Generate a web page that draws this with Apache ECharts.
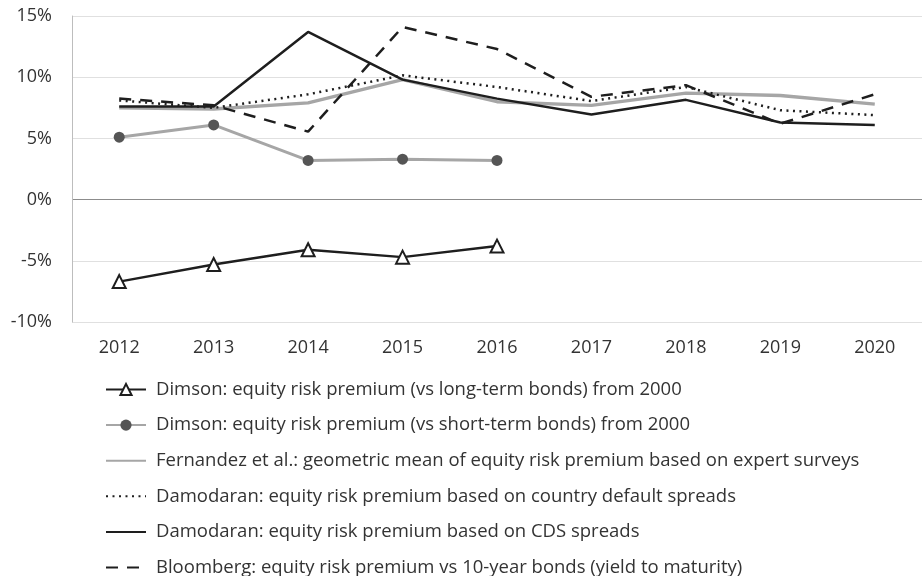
<!DOCTYPE html>
<html><head><meta charset="utf-8">
<script src="https://cdn.jsdelivr.net/npm/echarts@6/dist/echarts.min.js"></script>
<style>html,body{margin:0;padding:0;background:#fff}#c{width:922px;height:576px}</style>
</head><body><div id="c"></div>
<script>
var years = ['2012','2013','2014','2015','2016','2017','2018','2019','2020'];
var yTicks = [-10, -5, 0, 5, 10, 15];
var names = [
  'Dimson: equity risk premium (vs long-term bonds) from 2000',
  'Dimson: equity risk premium (vs short-term bonds) from 2000',
  'Fernandez et al.: geometric mean of equity risk premium based on expert surveys',
  'Damodaran: equity risk premium based on country default spreads',
  'Damodaran: equity risk premium based on CDS spreads',
  'Bloomberg: equity risk premium vs 10-year bonds (yield to maturity)'
];
var dimsonLong  = [-6.7, -5.3, -4.1, -4.7, -3.8, null, null, null, null];
var dimsonShort = [5.1, 6.1, 3.2, 3.3, 3.2, null, null, null, null];
var fernandez   = [7.5, 7.4, 7.9, 9.8, 8.0, 7.7, 8.7, 8.5, 7.8];
var damoCountry = [8.1, 7.5, 8.6, 10.15, 9.2, 8.05, 9.2, 7.3, 6.9];
var damoCDS     = [7.6, 7.6, 13.7, 9.8, 8.25, 6.95, 8.15, 6.3, 6.1];
var bloomberg   = [8.25, 7.7, 5.55, 14.1, 12.3, 8.4, 9.35, 6.2, 8.6];

var chart = echarts.init(document.getElementById('c'), null, {renderer:'canvas'});
var FONT = '"Open Sans", sans-serif';
var black = '#1e1e1e', gray = '#a6a6a6';
var hideSym = {color: 'rgba(0,0,0,0)', borderColor: 'rgba(0,0,0,0)', borderWidth: 0, opacity: 0};
chart.setOption({
  animation: false,
  backgroundColor: '#fff',
  textStyle: {fontFamily: FONT},
  grid: {left: 72, top: 16, width: 854, height: 306, containLabel: false},
  xAxis: {
    type: 'category', data: years, boundaryGap: true,
    axisLine: {show: false}, axisTick: {show: false},
    axisLabel: {color: '#333', fontSize: 18, fontFamily: FONT, margin: 17}
  },
  yAxis: {
    type: 'value', min: yTicks[0], max: yTicks[yTicks.length-1], interval: 5,
    axisLine: {show: true, lineStyle: {color: '#bdbdbd', width: 1}},
    axisTick: {show: false},
    axisLabel: {color: '#333', fontSize: 18, fontFamily: FONT, margin: 20,
      formatter: function(v){ return v + '%'; }},
    splitLine: {show: true, lineStyle: {color: ['#e0e0e0','#e0e0e0','#8c8c8c','#e0e0e0','#e0e0e0','#e0e0e0'], width: 1}}
  },
  legend: {
    orient: 'vertical', left: 105, top: 380, height: 220, padding: 0,
    itemWidth: 40, itemHeight: 14, itemGap: 16.6,
    textStyle: {color: '#333', fontSize: 18.5, fontFamily: FONT, lineHeight: 18, padding: [0,0,0,5]},
    data: [
      {name: names[0]},
      {name: names[1]},
      {name: names[2], itemStyle: hideSym},
      {name: names[3], itemStyle: hideSym},
      {name: names[4], itemStyle: hideSym},
      {name: names[5], itemStyle: hideSym}
    ]
  },
  series: [
    {name: names[0], type: 'line', data: dimsonLong, connectNulls: false,
     symbol: 'triangle', symbolSize: 13, showAllSymbol: true,
     itemStyle: {color: '#fff', borderColor: black, borderWidth: 2},
     lineStyle: {color: black, width: 2.5}, z: 6},
    {name: names[1], type: 'line', data: dimsonShort,
     symbol: 'circle', symbolSize: 11,
     itemStyle: {color: '#555', borderColor: '#555', borderWidth: 0},
     lineStyle: {color: gray, width: 3}, z: 5},
    {name: names[2], type: 'line', data: fernandez, symbol: 'none',
     itemStyle: {color: gray}, lineStyle: {color: gray, width: 3.4}, z: 2},
    {name: names[3], type: 'line', data: damoCountry, symbol: 'none',
     itemStyle: {color: black}, lineStyle: {color: black, width: 2.5, type: [2, 4.5]}, z: 4},
    {name: names[4], type: 'line', data: damoCDS, symbol: 'none',
     itemStyle: {color: black}, lineStyle: {color: black, width: 2.5}, z: 3},
    {name: names[5], type: 'line', data: bloomberg, symbol: 'none',
     itemStyle: {color: black}, lineStyle: {color: black, width: 2.5, type: [12, 9]}, z: 4}
  ]
});
</script></body></html>
